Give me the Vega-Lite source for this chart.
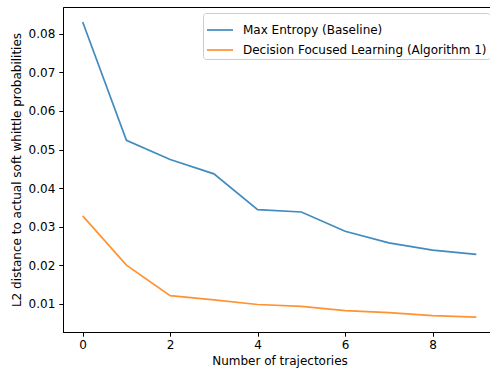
{
  "$schema": "https://vega.github.io/schema/vega-lite/v6.json",
  "autosize": {"type": "none"},
  "padding": {"left": 63, "top": 7, "right": 0, "bottom": 40},
  "width": 433,
  "height": 325,
  "background": "white",
  "config": {
    "font": "DejaVu Sans",
    "view": {"stroke": "black", "strokeWidth": 1},
    "axis": {
      "grid": false,
      "domainColor": "black",
      "domainWidth": 1,
      "tickColor": "black",
      "tickSize": 4.2,
      "tickWidth": 1,
      "labelFont": "DejaVu Sans",
      "labelFontSize": 12,
      "labelColor": "black",
      "titleFont": "DejaVu Sans",
      "titleFontSize": 12,
      "titleFontWeight": "normal",
      "titleColor": "black"
    }
  },
  "data": {
    "values": [
      {"n": 0, "series": "Max Entropy (Baseline)", "v": 0.0831},
      {"n": 1, "series": "Max Entropy (Baseline)", "v": 0.0524},
      {"n": 2, "series": "Max Entropy (Baseline)", "v": 0.0474},
      {"n": 3, "series": "Max Entropy (Baseline)", "v": 0.0437},
      {"n": 4, "series": "Max Entropy (Baseline)", "v": 0.0344},
      {"n": 5, "series": "Max Entropy (Baseline)", "v": 0.0338},
      {"n": 6, "series": "Max Entropy (Baseline)", "v": 0.0288},
      {"n": 7, "series": "Max Entropy (Baseline)", "v": 0.0258},
      {"n": 8, "series": "Max Entropy (Baseline)", "v": 0.0239},
      {"n": 9, "series": "Max Entropy (Baseline)", "v": 0.0228},
      {"n": 0, "series": "Decision Focused Learning (Algorithm 1)", "v": 0.0328},
      {"n": 1, "series": "Decision Focused Learning (Algorithm 1)", "v": 0.0200},
      {"n": 2, "series": "Decision Focused Learning (Algorithm 1)", "v": 0.0121},
      {"n": 3, "series": "Decision Focused Learning (Algorithm 1)", "v": 0.0110},
      {"n": 4, "series": "Decision Focused Learning (Algorithm 1)", "v": 0.0098},
      {"n": 5, "series": "Decision Focused Learning (Algorithm 1)", "v": 0.0093},
      {"n": 6, "series": "Decision Focused Learning (Algorithm 1)", "v": 0.0082},
      {"n": 7, "series": "Decision Focused Learning (Algorithm 1)", "v": 0.0077},
      {"n": 8, "series": "Decision Focused Learning (Algorithm 1)", "v": 0.0069},
      {"n": 9, "series": "Decision Focused Learning (Algorithm 1)", "v": 0.0065}
    ]
  },
  "mark": {"type": "line", "strokeWidth": 1.7, "opacity": 0.85},
  "encoding": {
    "x": {
      "field": "n",
      "type": "quantitative",
      "scale": {"domain": [-0.45, 9.45], "nice": false, "zero": false},
      "axis": {"values": [0, 2, 4, 6, 8], "format": "d", "title": "Number of trajectories", "labelPadding": 3, "titlePadding": 5}
    },
    "y": {
      "field": "v",
      "type": "quantitative",
      "scale": {"domain": [0.00266, 0.08698], "nice": false, "zero": false},
      "axis": {"values": [0.01, 0.02, 0.03, 0.04, 0.05, 0.06, 0.07, 0.08], "format": ".2f", "title": "L2 distance to actual soft whittle probabilities", "labelPadding": 4, "titlePadding": 5}
    },
    "color": {
      "field": "series",
      "type": "nominal",
      "scale": {"domain": ["Max Entropy (Baseline)", "Decision Focused Learning (Algorithm 1)"], "range": ["#1f77b4", "#ff7f0e"]},
      "legend": {
        "title": null,
        "orient": "top-right",
        "offset": 6,
        "fillColor": "white",
        "strokeColor": "#cccccc",
        "cornerRadius": 3,
        "padding": 3,
        "symbolType": "stroke",
        "symbolSize": 676,
        "symbolStrokeWidth": 1.7,
        "symbolOpacity": 0.85,
        "labelFont": "DejaVu Sans",
        "labelFontSize": 12,
        "labelColor": "black",
        "labelOffset": 9,
        "rowPadding": -14,
        "labelLimit": 400
      }
    }
  }
}
